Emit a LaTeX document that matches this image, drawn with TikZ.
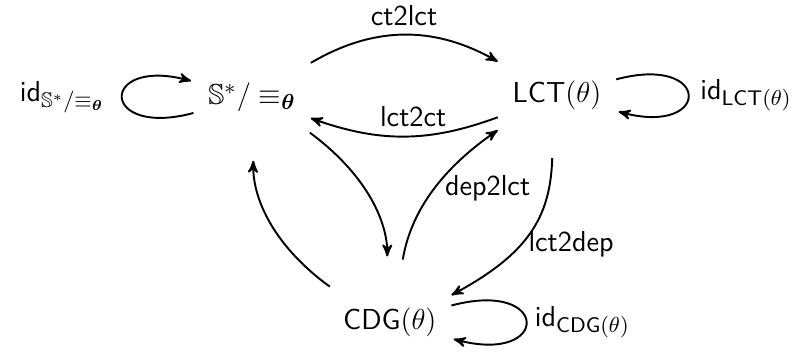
\documentclass[tikz,border=0pt]{standalone}
\usepackage{amsmath, amssymb, bm}
\usepackage{tikz}
\usetikzlibrary{arrows}
\usetikzlibrary{arrows.meta, positioning}
\DeclareMathSizes{12}{12}{8.8}{6.5}

\begin{document}
\begin{tikzpicture}[
    every node/.append style = {font=\sffamily\large},
    repr/.style = {inner xsep=6pt, minimum height=1.02cm},
    conv/.style = {->, thick},
    >=stealth'
  ]
  \useasboundingbox (0,0) rectangle (11.56,5.14);

  \node[repr] (seq) at (3.68,3.72) {$\mathbb{S}^*/\equiv_{\bm{\theta}}$};
  \node[repr] (lct) at (8.13,3.75) {LCT$(\theta)$};
  \node[repr] (cdg) at (5.69,0.44) {CDG$(\theta)$};

  % identities
  \draw[conv] (seq) edge[loop left] node[left=0.13cm] {id$_{\mathbb{S}^*/\equiv_{\bm{\theta}}}$} (seq);
  \draw[conv] (lct) edge[loop right] node[right=0.05cm] {id$_{\text{LCT}(\theta)}$} (lct);
  \draw[conv] (cdg) edge[loop right] node[right] {id$_{\text{CDG}(\theta)}$} (cdg);

  \draw[conv] (seq) to[bend left=30] node[above] {ct2lct} (lct);
  \draw[conv] (lct) to[bend left=20] node[above, pos=0.45] {lct2ct} (seq);
  \draw[conv, shorten >=0.44cm] (seq) to[bend left=27] (cdg);
  \draw[conv, shorten <=0.4cm] (cdg) to[bend left=23] node[right, pos=0.56] {dep2lct} (lct);
  \draw[conv, shorten <=0.4cm] (lct) to[bend left=30, looseness=1.15] node[right, pos=0.6] {lct2dep} (cdg);
  \draw[conv, shorten >=0.41cm] (cdg) to[bend left=28] (seq);
\end{tikzpicture}
\end{document}
